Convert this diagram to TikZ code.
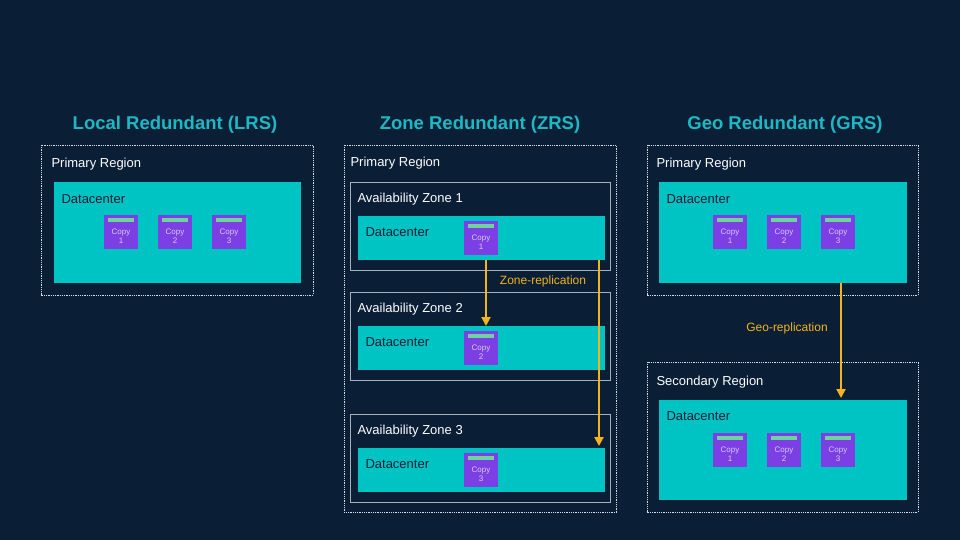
\documentclass[tikz,border=0pt]{standalone}
\usepackage{fontspec}
\setmainfont{Liberation Sans}
\usetikzlibrary{arrows.meta}
\definecolor{bg}{HTML}{0A1E36}
\definecolor{teal}{HTML}{00C4C4}
\definecolor{ttl}{HTML}{1DB8C4}
\definecolor{cp}{HTML}{7B3FE4}
\definecolor{bar}{HTML}{6FD3A0}
\definecolor{arr}{HTML}{F2B51C}
\definecolor{cpt}{HTML}{D8CCF8}
\begin{document}
\begin{tikzpicture}[x=1pt,y=-1pt,
 title/.style={text=ttl,font=\bfseries\fontsize{18.5}{21}\selectfont,anchor=center},
 region/.style={draw=white!85!bg,densely dotted,line width=0.8pt},
 zone/.style={draw=white!65!bg,line width=0.7pt},
 dc/.style={fill=teal},
 lbl/.style={text=white,font=\fontsize{13}{15}\selectfont,anchor=west},
 dlbl/.style={text=bg,font=\fontsize{13}{15}\selectfont,anchor=west},
 arrl/.style={text=arr,font=\fontsize{12}{14}\selectfont},
 rep/.style={draw=arr,line width=2pt,-{Triangle[length=9pt,width=9pt]}}]
\fill[bg] (0,0) rectangle (960,540);
\useasboundingbox (0,0) rectangle (960,540);
\newcommand{\copybox}[4]{%
 \fill[cp] (#1,#2) rectangle ++(34,34);
 \fill[bar] (#1+4,#2+3) rectangle ++(26,4);
 \node[text=cpt,font=\fontsize{8}{9.5}\selectfont,align=center] (#4) at (#1+17,#2+21) {Copy\\#3};}
% LRS
\node[title] (t1) at (175,125) {Local Redundant (LRS)};
\draw[region] (41,145) rectangle (313,295);
\node[lbl] (l1) at (48,164) {Primary Region};
\fill[dc] (54,182) rectangle (301,283);
\node[dlbl] (d1) at (58,199) {Datacenter};
\copybox{104}{215}{1}{a1}\copybox{158}{215}{2}{a2}\copybox{212}{215}{3}{a3}
% ZRS
\node[title] (t2) at (480,125) {Zone Redundant (ZRS)};
\draw[region] (344,145) rectangle (616,512);
\node[lbl] (l2) at (347,163) {Primary Region};
\foreach \y/\n in {182/1,292/2,414/3}{
 \draw[zone] (350,\y) rectangle (610,\y+88);
 \node[lbl] (z\n) at (354,\y+17) {Availability Zone \n};
 \fill[dc] (358,\y+34) rectangle (605,\y+78);
 \node[dlbl] (zd\n) at (362,\y+50) {Datacenter};
 \copybox{464}{\y+39}{\n}{b\n}}
\coordinate (s1) at (486,260); \coordinate (e1) at (486,326);
\coordinate (s2) at (599,260); \coordinate (e2) at (599,446);
\draw[rep] (s1) -- (e1);
\draw[rep] (s2) -- (e2);
\node[arrl] (zr) at (543,281) {Zone-replication};
% GRS
\node[title] (t3) at (785,125) {Geo Redundant (GRS)};
\draw[region] (647,145) rectangle (918,295);
\node[lbl] (l3) at (653,164) {Primary Region};
\fill[dc] (659,182) rectangle (907,283);
\node[dlbl] (d3) at (663,199) {Datacenter};
\copybox{713}{215}{1}{c1}\copybox{767}{215}{2}{c2}\copybox{821}{215}{3}{c3}
\draw[region] (647,362) rectangle (918,512);
\node[lbl] (l4) at (653,382) {Secondary Region};
\fill[dc] (659,400) rectangle (907,500);
\node[dlbl] (d4) at (663,416) {Datacenter};
\copybox{713}{433}{1}{e1c}\copybox{767}{433}{2}{e2c}\copybox{821}{433}{3}{e3c}
\coordinate (gs) at (841,283); \coordinate (ge) at (841,398);
\draw[rep] (gs) -- (ge);
\node[arrl] (gr) at (787,328) {Geo-replication};
\end{tikzpicture}
\end{document}
